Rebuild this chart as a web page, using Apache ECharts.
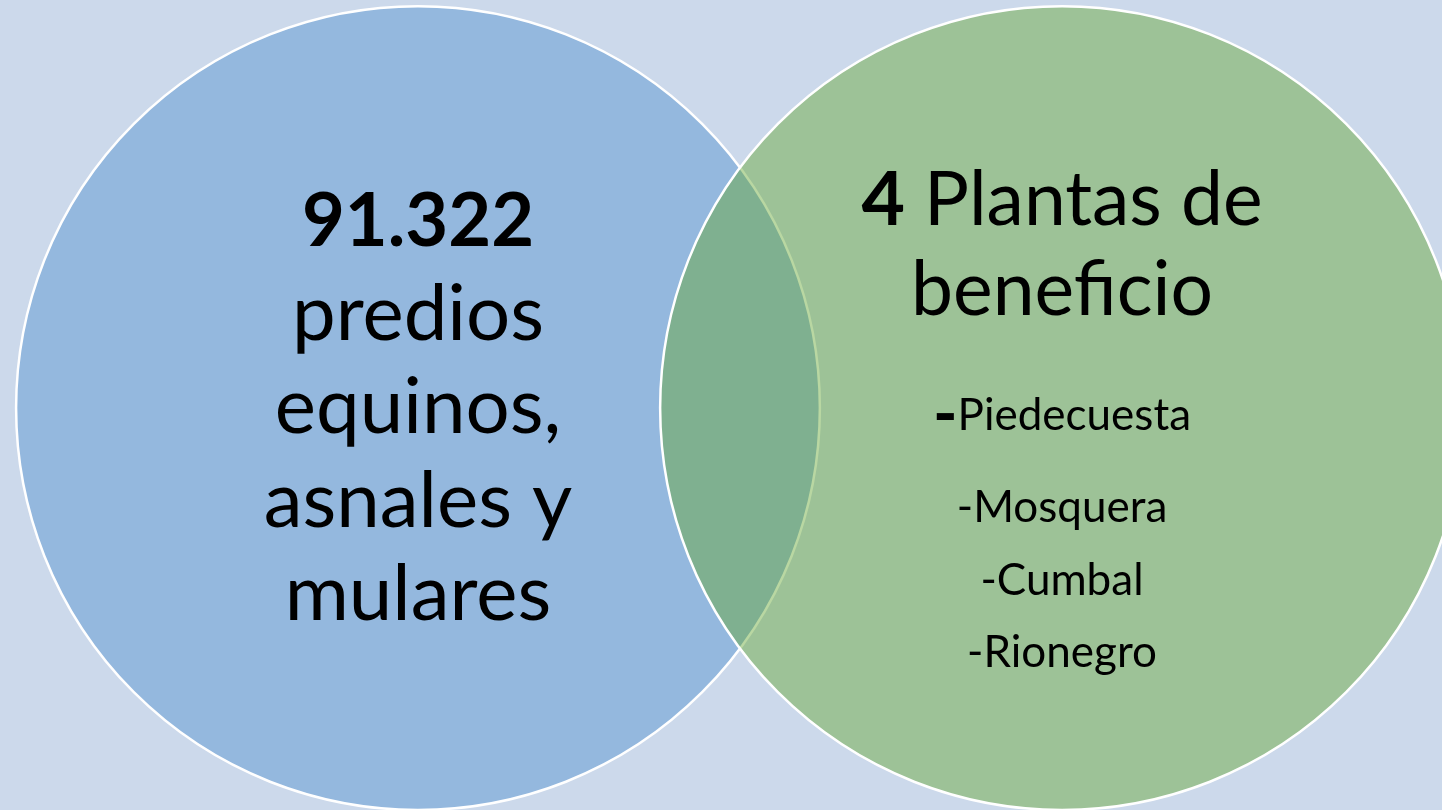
<!DOCTYPE html>
<html>
<head>
<meta charset="utf-8">
<title>Venn</title>
<script src="https://cdn.jsdelivr.net/npm/echarts@6/dist/echarts.min.js"></script>
<style>
  html, body { margin: 0; padding: 0; background: #ccd9eb; }
  #main { width: 1442px; height: 810px; }
</style>
</head>
<body>
<div id="main"></div>
<script>
// datos del diagrama
var setNames = ['Predios equinos', 'Plantas de beneficio'];
var setCenters = [-1, 1];          // centro de cada círculo (unidades de datos)
var setRadius = [1.248, 1.248];    // radio (unidades de datos)

var prediosCount = '91.322';
var prediosLines = ['predios', 'equinos,', 'asnales y', 'mulares'];
var plantasCount = '4';
var plantasTitle = ['Plantas de', 'beneficio'];
var plantas = ['Piedecuesta', 'Mosquera', 'Cumbal', 'Rionegro'];

var FONT = 'Lato, "Open Sans", sans-serif';
var MID = 0.32; // distancia baseline -> centro em

function line(x, y, base, size, text, rich) {
  return {
    type: 'text',
    x: x,
    y: y + base - MID * size,
    style: {
      text: text,
      fontFamily: FONT,
      fontSize: size,
      fill: '#000',
      align: 'center',
      verticalAlign: 'middle',
      rich: rich || {}
    }
  };
}

var myChart = echarts.init(document.getElementById('main'));

var option = {
  backgroundColor: '#ccd9eb',
  animation: false,
  grid: { left: 0, right: 0, top: 0, bottom: 0 },
  xAxis: { type: 'value', min: -2.298, max: 2.180, show: false },
  yAxis: { type: 'value', min: -1.248, max: 1.267, show: false },
  series: [{
    type: 'custom',
    data: setCenters.map(function (c, i) { return { name: setNames[i], value: [c, setRadius[i]] }; }),
    renderItem: function (params, api) {
      var i = params.dataIndex;
      var p = api.coord([api.value(0), 0]);
      var r = api.size([api.value(1), 0])[0];
      var kids = [{
        type: 'circle',
        shape: { cx: p[0], cy: p[1], r: r },
        style: {
          fill: i === 0 ? '#94b8de' : 'rgba(102,167,52,0.46)',
          stroke: '#fff',
          lineWidth: 2.5
        }
      }];
      if (i === 0) {
        var b = [-162, -68, 25, 119, 212];
        kids.push(line(p[0], p[1], b[0], 74, '{b|' + prediosCount + '}', {
          b: { fontFamily: FONT, fontSize: 74, fontWeight: 'bold', fill: '#000' }
        }));
        prediosLines.forEach(function (t, k) {
          kids.push(line(p[0], p[1], b[k + 1], 78, t));
        });
      } else {
        kids.push(line(p[0], p[1], -183, 75, '{b|' + plantasCount + '} ' + plantasTitle[0], {
          b: { fontFamily: FONT, fontSize: 75, fontWeight: 'bold', fill: '#000' }
        }));
        kids.push(line(p[0], p[1], -93, 75, plantasTitle[1]));
        var pb = [22, 114, 187, 259];
        plantas.forEach(function (t, k) {
          if (k === 0) {
            kids.push(line(p[0], p[1], pb[k], 44, '{d|-}' + t, {
              d: { fontFamily: FONT, fontSize: 66, fontWeight: 'bold', fill: '#000' }
            }));
          } else {
            kids.push(line(p[0], p[1], pb[k], 44, '-' + t));
          }
        });
      }
      return { type: 'group', children: kids };
    }
  }]
};

myChart.setOption(option);
</script>
</body>
</html>
